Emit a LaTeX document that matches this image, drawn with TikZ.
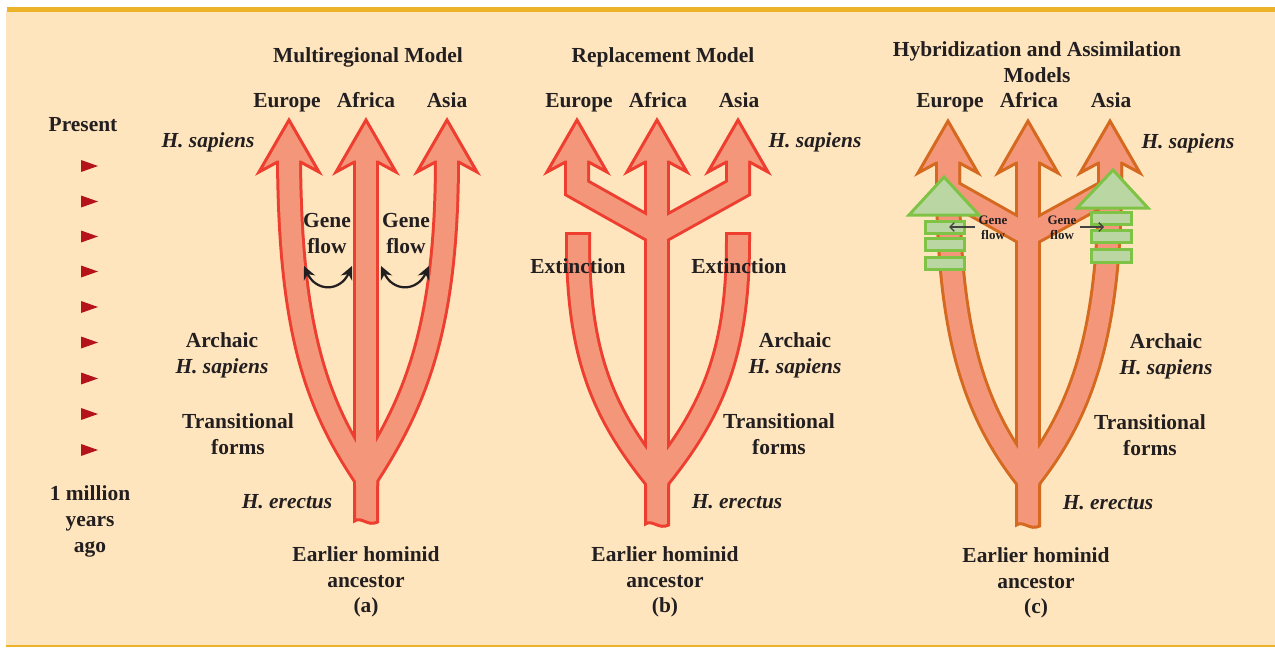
\documentclass[tikz,border=0pt]{standalone}
\usepackage{fontspec}
\setmainfont{Liberation Serif}
\usetikzlibrary{arrows.meta}
\definecolor{peach}{HTML}{FEE5BE}
\definecolor{gold}{HTML}{EBB22A}
\definecolor{salmon}{HTML}{F4967A}
\definecolor{redline}{HTML}{EE3E30}
\definecolor{rustline}{HTML}{D4691F}
\definecolor{leaf}{HTML}{BAD6A2}
\definecolor{leafline}{HTML}{7FC346}
\definecolor{ink}{HTML}{231F20}
\definecolor{marker}{HTML}{B5121B}
\tikzset{
  lbl/.style={font=\fontsize{12.2}{14.7}\selectfont\bfseries, text=ink, inner sep=0pt, anchor=base},
  sp/.style={lbl, font=\fontsize{12.2}{14.7}\selectfont\bfseries\itshape},
  small/.style={lbl, font=\fontsize{7.4}{8.5}\selectfont\bfseries},
  branchedge/.style={draw=#1, line width=0.52cm, line join=miter},
  branchcore/.style={draw=salmon, line width=0.40cm, line join=miter},
  headshape/.style={fill=salmon, draw=#1, line width=0.06cm, line join=miter},
  footshape/.style={fill=salmon, draw=#1, line width=0.06cm, line join=miter},
  patch/.style={fill=leaf, draw=leafline, line width=0.06cm},
  swaparrow/.style={draw=ink, line width=0.045cm, {Stealth[length=7.5pt,width=7pt,inset=2.5pt]}-{Stealth[length=7.5pt,width=7pt,inset=2.5pt]}},
  flowarrow/.style={draw=ink!85, line width=0.025cm, -{Straight Barb[length=2.5pt,width=5pt]}},
}
% arrow head of a branch: x, tip y, outline colour
\newcommand{\branchhead}[3]{%
  \draw[headshape=#3] (#1,#2) -- ++(-30,52) -- ++(18.5,-10) -- ++(23,0) -- ++(18.5,10) -- cycle;}
% cut-off foot of a stem: x, bottom y, outline colour
\newcommand{\branchfoot}[3]{%
  \draw[footshape=#3] (#1-11.5,478) -- (#1-11.5,#2) .. controls (#1-5,#2-5) and (#1+2,#2+6) .. (#1+11.5,#2+1) -- (#1+11.5,478);}
% branches of the three trees
\newcommand{\multiregionaltree}[1]{%
  \draw[#1] (366,158) -- (366,486);
  \draw[#1] (289,158) .. controls (290,330) and (316,404) .. (366,478) -- (366,486);
  \draw[#1] (447,158) .. controls (447,330) and (414,404) .. (366,478) -- (366,486);}
\newcommand{\replacementtree}[1]{%
  \draw[#1] (657,158) -- (657,486);
  \draw[#1] (577,158) -- (577,188) -- (657,233);
  \draw[#1] (738,158) -- (738,188) -- (657,233);}
\newcommand{\hybridtree}[1]{%
  \draw[#1] (1028,158) -- (1028,486);
  \draw[#1] (948,158) -- (948,190) -- (1028,235);
  \draw[#1] (1110,158) -- (1110,190) -- (1028,235);
  \draw[#1] (948,158) -- (948,190) .. controls (950,330) and (972,410) .. (1028,480) -- (1028,486);
  \draw[#1] (1110,158) -- (1110,190) .. controls (1108,330) and (1084,410) .. (1028,480) -- (1028,486);}
\begin{document}
\begin{tikzpicture}[x=0.02cm,y=-0.02cm]
\useasboundingbox (0,0) rectangle (1275,647);
% Frame
\fill[white] (0,0) rectangle (1275,647);
\fill[peach] (6,11) rectangle (1275,645);
\fill[gold] (7,6.5) rectangle (1275,11.5);
\fill[gold] (6,644.5) rectangle (1275,647);
% Time scale
\node[lbl] (present) at (83,131) {Present};
\foreach \ty in {166,201.5,236.5,271.5,307,342.5,378.5,414,450}
  \fill[marker] (81,\ty-6) -- (98,\ty) -- (81,\ty+6) -- cycle;
\node[lbl] (mya1) at (90,500) {1 million};
\node[lbl] (mya2) at (90,526) {years};
\node[lbl] (mya3) at (90,552) {ago};
% (a) Multiregional model
\multiregionaltree{branchedge=redline}
\branchfoot{366}{521}{redline}
\branchhead{289}{120}{redline}
\branchhead{366}{120}{redline}
\branchhead{447}{120}{redline}
\multiregionaltree{branchcore}
\node[lbl] (ttla) at (368,62) {Multiregional Model};
\node[lbl] (eura) at (287,107) {Europe};
\node[lbl] (afra) at (366,107) {Africa};
\node[lbl] (asia) at (447,107) {Asia};
\node[sp] (sapa) at (208,147) {H. sapiens};
\node[lbl] (gfla1) at (327,227) {Gene};
\node[lbl] (gfla2) at (327,253) {flow};
\node[lbl] (gflb1) at (406,227) {Gene};
\node[lbl] (gflb2) at (406,253) {flow};
\coordinate (gfa1) at (304,266);
\coordinate (gfa2) at (352,266);
\coordinate (gfb1) at (381,266);
\coordinate (gfb2) at (429,266);
\draw[swaparrow] (gfa1) .. controls (316,292) and (340,292) .. (gfa2);
\draw[swaparrow] (gfb1) .. controls (393,292) and (417,292) .. (gfb2);
\node[lbl] (arca1) at (222,347) {Archaic};
\node[sp] (arca2) at (222,373) {H. sapiens};
\node[lbl] (tfa1) at (238,428) {Transitional};
\node[lbl] (tfa2) at (238,454) {forms};
\node[sp] (erea) at (287,508) {H. erectus};
\node[lbl] (anca1) at (366,561) {Earlier hominid};
\node[lbl] (anca2) at (366,587) {ancestor};
\node[lbl] (laba) at (366,612) {(a)};
% (b) Replacement model
\replacementtree{branchedge=redline}
\draw[branchedge=redline] (578,232) -- (578,240) .. controls (578,350) and (600,410) .. (657,480) -- (657,486);
\draw[branchedge=redline] (738,232) -- (738,240) .. controls (738,350) and (714,410) .. (657,480) -- (657,486);
\branchfoot{657}{524}{redline}
\branchhead{577}{120}{redline}
\branchhead{657}{120}{redline}
\branchhead{738}{120}{redline}
\replacementtree{branchcore}
\draw[branchcore] (578,235) -- (578,240) .. controls (578,350) and (600,410) .. (657,480) -- (657,486);
\draw[branchcore] (738,235) -- (738,240) .. controls (738,350) and (714,410) .. (657,480) -- (657,486);
\node[lbl] (ttlb) at (663,62) {Replacement Model};
\node[lbl] (eurb) at (579,107) {Europe};
\node[lbl] (afrb) at (658,107) {Africa};
\node[lbl] (asib) at (739,107) {Asia};
\node[sp] (sapb) at (815,147) {H. sapiens};
\node[lbl] (extb1) at (578,273) {Extinction};
\node[lbl] (extb2) at (739,273) {Extinction};
\node[lbl] (arcb1) at (795,347) {Archaic};
\node[sp] (arcb2) at (795,373) {H. sapiens};
\node[lbl] (tfb1) at (779,428) {Transitional};
\node[lbl] (tfb2) at (779,454) {forms};
\node[sp] (ereb) at (737,508) {H. erectus};
\node[lbl] (ancb1) at (665,561) {Earlier hominid};
\node[lbl] (ancb2) at (665,587) {ancestor};
\node[lbl] (labb) at (665,612) {(b)};
% (c) Hybridization and assimilation models
\hybridtree{branchedge=rustline}
\branchfoot{1028}{525}{rustline}
\branchhead{948}{121}{rustline}
\branchhead{1028}{121}{rustline}
\branchhead{1110}{121}{rustline}
\hybridtree{branchcore}
% green markers
\draw[patch] (944,177) -- (979,215) -- (909,215) -- cycle;
\draw[patch] (925,221) rectangle (964,233);
\draw[patch] (925,238) rectangle (964,250);
\draw[patch] (925,257) rectangle (964,269);
\draw[patch] (1113,170) -- (1148,208) -- (1077,208) -- cycle;
\draw[patch] (1091,212) rectangle (1131,224);
\draw[patch] (1091,230) rectangle (1131,242);
\draw[patch] (1091,249) rectangle (1131,262);
\node[small] (gflc1) at (993,224) {Gene};
\node[small] (gflc2) at (993,239) {flow};
\node[small] (gfld1) at (1062,224) {Gene};
\node[small] (gfld2) at (1062,239) {flow};
\coordinate (gfc1) at (975,227);
\coordinate (gfc2) at (949,227);
\coordinate (gfd1) at (1080,227);
\coordinate (gfd2) at (1104,227);
\draw[flowarrow] (gfc1) -- (gfc2);
\draw[flowarrow] (gfd1) -- (gfd2);
\node[lbl] (ttlc1) at (1037,56) {Hybridization and Assimilation};
\node[lbl] (ttlc2) at (1037,82) {Models};
\node[lbl] (eurc) at (950,107) {Europe};
\node[lbl] (afrc) at (1029,107) {Africa};
\node[lbl] (asic) at (1111,107) {Asia};
\node[sp] (sapc) at (1188,148) {H. sapiens};
\node[lbl] (arcc1) at (1166,348) {Archaic};
\node[sp] (arcc2) at (1166,374) {H. sapiens};
\node[lbl] (tfc1) at (1150,429) {Transitional};
\node[lbl] (tfc2) at (1150,455) {forms};
\node[sp] (erec) at (1108,509) {H. erectus};
\node[lbl] (ancc1) at (1036,562) {Earlier hominid};
\node[lbl] (ancc2) at (1036,588) {ancestor};
\node[lbl] (labc) at (1036,613) {(c)};
\end{tikzpicture}
\end{document}
